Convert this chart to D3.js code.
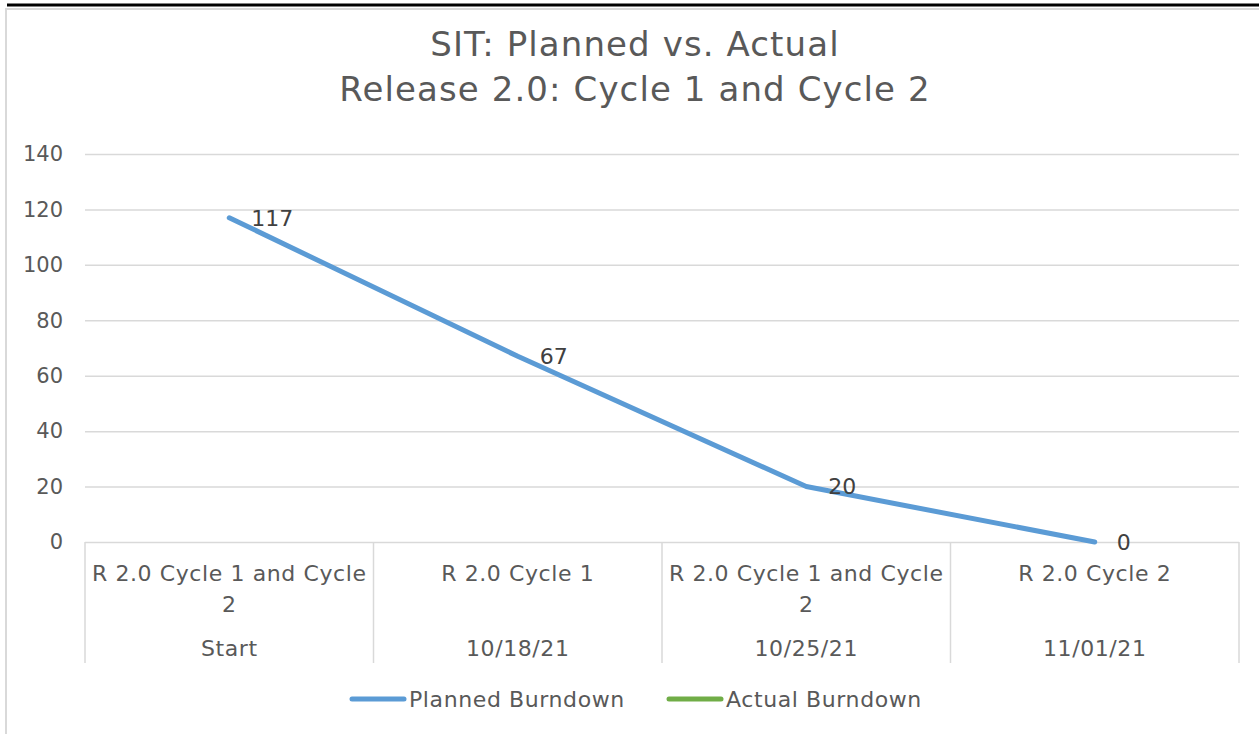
<!DOCTYPE html>
<html>
<head>
<meta charset="utf-8">
<script src="https://cdn.jsdelivr.net/npm/d3@7"></script>
<style>
  body { margin: 0; background: #fff; }
  svg { display: block; font-family: "DejaVu Sans", sans-serif; }
</style>
</head>
<body>
<svg id="chart" width="1259" height="734"></svg>
<script>
// Chart data
const categories = ["R 2.0 Cycle 1 and Cycle 2", "R 2.0 Cycle 1", "R 2.0 Cycle 1 and Cycle 2", "R 2.0 Cycle 2"];
const dates = ["Start", "10/18/21", "10/25/21", "11/01/21"];
const plannedBurndown = [117, 67, 20, 0];
const actualBurndown = [null, null, null, null]; // no actuals yet
const yTicks = [0, 20, 40, 60, 80, 100, 120, 140];
const titleLines = ["SIT: Planned vs. Actual", "Release 2.0: Cycle 1 and Cycle 2"];
const seriesNames = ["Planned Burndown", "Actual Burndown"];

const grey = "#d9d9d9";
const textCol = "#595959";
const blue = "#5b9bd5";
const green = "#70ad47";

const svg = d3.select("#chart");

// frame: black rule on top, light grey border
svg.append("rect")
  .attr("x", 6).attr("y", 9)
  .attr("width", 1270).attr("height", 740)
  .attr("fill", "none").attr("stroke", grey).attr("stroke-width", 2);
svg.append("line")
  .attr("x1", 7).attr("x2", 1259).attr("y1", 5).attr("y2", 5)
  .attr("stroke", "#000").attr("stroke-width", 3);

// title
svg.append("text")
  .attr("text-anchor", "middle")
  .attr("fill", textCol)
  .style("font-size", "34px")
  .style("letter-spacing", "1.1px")
  .selectAll("tspan")
  .data(titleLines)
  .join("tspan")
  .attr("x", 635)
  .attr("y", (d, i) => 56 + i * 45)
  .text((d) => d);

const x = d3.scaleBand().domain(d3.range(categories.length)).range([85, 1239]);
const y = d3.scaleLinear().domain([0, 140]).range([542, 154]);
const xc = (i) => x(i) + x.bandwidth() / 2;

// y axis + gridlines
const yAxis = svg.append("g")
  .attr("transform", "translate(85,0)")
  .call(d3.axisLeft(y).tickValues(yTicks).tickSize(-1154).tickPadding(22));
yAxis.select(".domain").remove();
yAxis.selectAll(".tick line").attr("stroke", grey).attr("stroke-width", 1.5);
yAxis.selectAll(".tick text")
  .attr("fill", textCol)
  .style("font-size", "21px")
  .style("font-family", "DejaVu Sans, sans-serif");

// category separators
const edges = d3.range(categories.length).map((i) => x(i)).concat([x.range()[1]]);
svg.append("g")
  .selectAll("line")
  .data(edges)
  .join("line")
  .attr("x1", (d) => d).attr("x2", (d) => d)
  .attr("y1", y(0)).attr("y2", 663)
  .attr("stroke", grey).attr("stroke-width", 1.5);

// category labels, wrapped to the band width
const catText = svg.append("g")
  .attr("fill", textCol)
  .style("font-size", "22px")
  .style("letter-spacing", "0.6px")
  .attr("text-anchor", "middle");

categories.forEach((c, i) => {
  const t = catText.append("text");
  const words = c.split(" ");
  let line = [];
  let lineNo = 0;
  let tspan = t.append("tspan").attr("x", xc(i)).attr("y", 581);
  words.forEach((w) => {
    line.push(w);
    tspan.text(line.join(" "));
    if (tspan.node().getComputedTextLength() > x.bandwidth() - 10 && line.length > 1) {
      line.pop();
      tspan.text(line.join(" "));
      line = [w];
      lineNo++;
      tspan = t.append("tspan").attr("x", xc(i)).attr("y", 581 + lineNo * 31).text(w);
    }
  });
  catText.append("text").attr("x", xc(i)).attr("y", 656).text(dates[i]);
});

// series lines
const lineGen = d3.line()
  .defined((d) => d != null)
  .x((d, i) => xc(i))
  .y((d) => y(d));

svg.append("path")
  .datum(actualBurndown)
  .attr("fill", "none")
  .attr("stroke", green).attr("stroke-width", 5)
  .attr("stroke-linecap", "round").attr("stroke-linejoin", "round")
  .attr("d", lineGen);

svg.append("path")
  .datum(plannedBurndown)
  .attr("fill", "none")
  .attr("stroke", blue).attr("stroke-width", 5)
  .attr("stroke-linecap", "round").attr("stroke-linejoin", "round")
  .attr("d", lineGen);

// data labels to the right of each point
svg.append("g")
  .attr("fill", "#404040")
  .style("font-size", "22px")
  .selectAll("text")
  .data(plannedBurndown)
  .join("text")
  .attr("x", (d, i) => xc(i) + 22)
  .attr("y", (d) => y(d))
  .attr("dy", "0.36em")
  .text((d) => d);

// legend
const legend = [
  { name: seriesNames[0], color: blue, x: 352 },
  { name: seriesNames[1], color: green, x: 669 }
];
const lg = svg.append("g").selectAll("g").data(legend).join("g")
  .attr("transform", (d) => `translate(${d.x},699)`);
lg.append("line")
  .attr("x1", 0).attr("x2", 52)
  .attr("stroke", (d) => d.color).attr("stroke-width", 5)
  .attr("stroke-linecap", "round");
lg.append("text")
  .attr("x", 57).attr("y", 8)
  .attr("fill", textCol)
  .style("font-size", "22px")
  .style("letter-spacing", "0.6px")
  .text((d) => d.name);
</script>
</body>
</html>
